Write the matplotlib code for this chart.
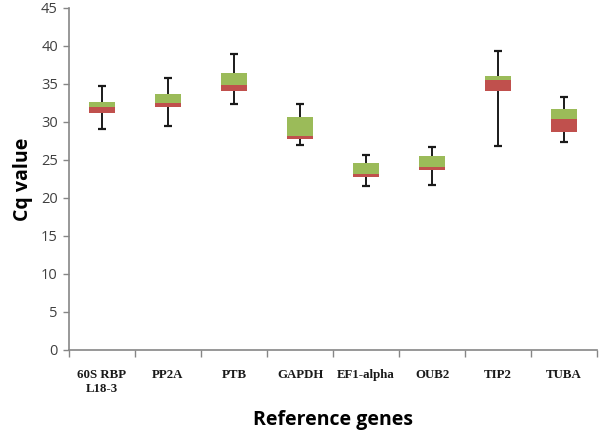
import numpy as np
import matplotlib
matplotlib.use('Agg')
import matplotlib.pyplot as plt

genes = ['60S RBP\nL18-3', 'PP2A', 'PTB', 'GAPDH', 'EF1-alpha', 'OUB2', 'TIP2', 'TUBA']
minimum = [29.0, 29.4, 32.3, 27.0, 21.5, 21.7, 26.8, 27.3]
q1 = [31.1, 31.9, 34.1, 27.75, 22.7, 23.6, 34.1, 28.7]
median = [32.0, 32.45, 34.8, 28.2, 23.1, 24.1, 35.5, 30.35]
q3 = [32.6, 33.7, 36.45, 30.65, 24.55, 25.55, 36.05, 31.65]
maximum = [34.7, 35.7, 38.9, 32.3, 25.7, 26.65, 39.3, 33.25]

x = np.arange(len(genes))
minimum, q1, median, q3, maximum = map(np.array, (minimum, q1, median, q3, maximum))

fig = plt.figure(figsize=(6, 4.33), dpi=100)
ax = fig.add_axes([0.115, 0.192, 0.88, 0.79])

red = '#C0504D'
green = '#9BBB59'
w = 0.38
cap = 0.06

ax.bar(x, median - q1, bottom=q1, width=w, color=red, linewidth=0, zorder=2)
ax.bar(x, q3 - median, bottom=median, width=w, color=green, linewidth=0, zorder=2)

# whiskers, caps only at the outer ends
wc = '#1a1a1a'
ax.vlines(x, q3, maximum, color=wc, linewidth=1.4, zorder=3)
ax.vlines(x, minimum, q1, color=wc, linewidth=1.4, zorder=3)
ax.hlines(maximum, x - cap, x + cap, color=wc, linewidth=1.6, zorder=3)
ax.hlines(minimum, x - cap, x + cap, color=wc, linewidth=1.6, zorder=3)

ax.set_xlim(-0.5, len(genes) - 0.5)
ax.set_ylim(0, 45)
ax.set_yticks(np.arange(0, 46, 5))
ax.tick_params(axis='y', labelsize=10.5, colors='#868686', length=4, width=1, pad=4)
for lab in ax.get_yticklabels():
    lab.set_color('#404040')
    lab.set_family('Open Sans')

ax.set_xticks(x)
ax.set_xticklabels(genes, family='Liberation Serif', fontweight='bold', fontsize=9.3, color='#1a1a1a')
ax.set_xticks(np.arange(-0.5, len(genes)), minor=True)
ax.tick_params(axis='x', which='major', length=0, pad=14)
ax.tick_params(axis='x', which='minor', length=5, width=1, colors='#868686')

for s in ['top', 'right']:
    ax.spines[s].set_visible(False)
for s in ['left', 'bottom']:
    ax.spines[s].set_color('#868686')
    ax.spines[s].set_linewidth(1.2)

ax.set_ylabel('Cq value', family='Open Sans', fontweight='bold', fontsize=14, labelpad=6)
ax.set_xlabel('Reference genes', family='Open Sans', fontweight='bold', fontsize=14, labelpad=11)

fig.savefig('out.png', dpi=100)
